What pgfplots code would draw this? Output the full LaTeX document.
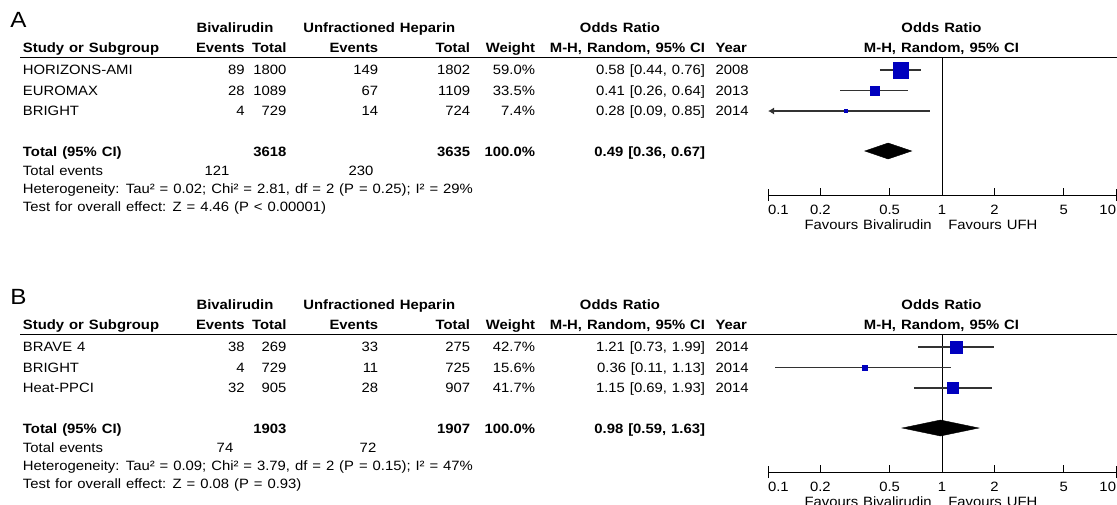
\documentclass[border=0pt]{standalone}
\usepackage{fontspec}
\setmainfont{Liberation Sans}[FakeStretch=1.1, WordSpace=1.2]
\usepackage{pgfplots}
\pgfplotsset{compat=1.18}
\usetikzlibrary{arrows.meta}

\definecolor{sqblue}{RGB}{0,0,190}
\definecolor{cigray}{RGB}{50,50,50}

\newcommand{\fs}{\fontsize{10.125}{12}\selectfont}
% text nodes: x in px, y = centre of the capitals in px (down from top); 1px = 0.75pt
\newcommand{\R}[3]{\node[anchor=base east, inner sep=0pt] at ({#1*0.75pt},{-(#2+\oy+4.8)*0.75pt}) {#3};}
\newcommand{\Lt}[3]{\node[anchor=base west, inner sep=0pt] at ({#1*0.75pt},{-(#2+\oy+4.8)*0.75pt}) {#3};}
\newcommand{\C}[3]{\node[anchor=base, inner sep=0pt] at ({#1*0.75pt},{-(#2+\oy+4.8)*0.75pt}) {#3};}
\newcommand{\row}[9]{\Lt{22.7}{#1}{#2}\R{245}{#1}{#3}\R{286.7}{#1}{#4}%
  \R{378.5}{#1}{#5}\R{470.3}{#1}{#6}\R{535.3}{#1}{#7}\R{705.3}{#1}{#8}\Lt{715.3}{#1}{#9}}
\newcommand{\header}{%
  \C{235}{27.5}{\bfseries Bivalirudin}
  \C{379.3}{27.5}{\bfseries Unfractioned Heparin}
  \C{620}{27.5}{\bfseries Odds Ratio}
  \C{941.5}{27.5}{\bfseries Odds Ratio}
  \row{47.5}{\bfseries Study or Subgroup}{\bfseries Events}{\bfseries Total}{\bfseries Events}%
      {\bfseries Total}{\bfseries Weight}{\bfseries M-H, Random, 95\% CI}{\bfseries Year}
  \C{941.5}{47.5}{\bfseries M-H, Random, 95\% CI}
  \draw[line width=1pt] ({20*0.75pt},{-(57.8+\oy)*0.75pt}) -- ({1117*0.75pt},{-(57.8+\oy)*0.75pt});
  \R{932}{225}{Favours Bivalirudin}
  \Lt{948}{225}{Favours UFH}}

\pgfplotsset{
  ci/.style={cigray, line width=0.8pt},
  sq/.style={only marks, mark=square*, color=sqblue, mark options={draw=none, fill=sqblue}},
}

\begin{document}
\begin{tikzpicture}[font=\fs]
\useasboundingbox (0pt,0pt) rectangle (837.75pt,-378pt);

% ---------------- panel A ----------------
\def\oy{0}
\node[anchor=base west, inner sep=0, font=\fontsize{16.5}{18}\selectfont] at (7.5pt,-20.7pt) {A};
\header
\row{70}{HORIZONS-AMI}{89}{1800}{149}{1802}{59.0\%}{0.58 [0.44, 0.76]}{2008}
\row{90.5}{EUROMAX}{28}{1089}{67}{1109}{33.5\%}{0.41 [0.26, 0.64]}{2013}
\row{111}{BRIGHT}{4}{729}{14}{724}{7.4\%}{0.28 [0.09, 0.85]}{2014}
\Lt{22.7}{152}{\bfseries Total (95\% CI)}
\R{286.7}{152}{\bfseries 3618}
\R{470.3}{152}{\bfseries 3635}
\R{535.3}{152}{\bfseries 100.0\%}
\R{705.3}{152}{\bfseries 0.49 [0.36, 0.67]}
\Lt{22.7}{170.5}{Total events}
\C{217}{170.5}{121}
\C{361}{170.5}{230}
\Lt{22.7}{188.5}{Heterogeneity: Tau² = 0.02; Chi² = 2.81, df = 2 (P = 0.25); I² = 29\%}
\Lt{22.7}{206.5}{Test for overall effect: Z = 4.46 (P < 0.00001)}

\begin{axis}[
    scale only axis, width=261pt, height=102.9pt, anchor=south west,
    at={(576pt,-146.25pt)},
    xmode=log, xmin=0.1, xmax=10, ymin=-195, ymax=-57.8, clip=false,
    axis x line=bottom, axis y line=none,
    axis line style={-, line width=0.75pt, black},
    xtick={0.2,0.5,1,2,5}, xticklabels={0.2,0.5,1,2,5},
    extra x ticks={0.1,10},
    extra x tick labels={\makebox[0pt][l]{0.1},\makebox[0pt][r]{10}},
    extra x tick style={major tick length=9pt, tick align=center,
      xticklabel style={yshift=4.5pt}},
    tick align=inside, major tick length=5pt, minor tick num=0,
    tick style={black, line width=0.75pt},
    xticklabel style={font=\fs, anchor=north, inner sep=0pt, yshift=-7.3pt},
  ]
\addplot[black, line width=0.75pt] coordinates {(1,-57.8) (1,-195)};
\addplot[ci] coordinates {(0.44,-70) (0.76,-70)};
\addplot[ci] coordinates {(0.26,-90.5) (0.64,-90.5)};
\addplot[ci, {Latex[length=4.5pt, width=5.25pt]}-] coordinates {(0.1,-111) (0.85,-111)};
\addplot[sq, mark size=5.9pt] coordinates {(0.58,-70)};
\addplot[sq, mark size=3.25pt] coordinates {(0.41,-90.5)};
\addplot[sq, mark size=1.25pt] coordinates {(0.28,-111)};
\addplot[fill=black, draw=black, line width=0.3pt]
  coordinates {(0.36,-151) (0.49,-143) (0.67,-151) (0.49,-159)} -- cycle;
\end{axis}

% ---------------- panel B ----------------
\def\oy{277}
\node[anchor=base west, inner sep=0, font=\fontsize{16.5}{18}\selectfont] at (7.5pt,-228.45pt) {B};
\header
\row{70}{BRAVE 4}{38}{269}{33}{275}{42.7\%}{1.21 [0.73, 1.99]}{2014}
\row{90.5}{BRIGHT}{4}{729}{11}{725}{15.6\%}{0.36 [0.11, 1.13]}{2014}
\row{111}{Heat-PPCI}{32}{905}{28}{907}{41.7\%}{1.15 [0.69, 1.93]}{2014}
\Lt{22.7}{152}{\bfseries Total (95\% CI)}
\R{286.7}{152}{\bfseries 1903}
\R{470.3}{152}{\bfseries 1907}
\R{535.3}{152}{\bfseries 100.0\%}
\R{705.3}{152}{\bfseries 0.98 [0.59, 1.63]}
\Lt{22.7}{170.5}{Total events}
\C{225}{170.5}{74}
\C{368}{170.5}{72}
\Lt{22.7}{188.5}{Heterogeneity: Tau² = 0.09; Chi² = 3.79, df = 2 (P = 0.15); I² = 47\%}
\Lt{22.7}{206.5}{Test for overall effect: Z = 0.08 (P = 0.93)}

\begin{axis}[
    scale only axis, width=261pt, height=102.9pt, anchor=south west,
    at={(576pt,-354pt)},
    xmode=log, xmin=0.1, xmax=10, ymin=-472, ymax=-334.8, clip=false,
    axis x line=bottom, axis y line=none,
    axis line style={-, line width=0.75pt, black},
    xtick={0.2,0.5,1,2,5}, xticklabels={0.2,0.5,1,2,5},
    extra x ticks={0.1,10},
    extra x tick labels={\makebox[0pt][l]{0.1},\makebox[0pt][r]{10}},
    extra x tick style={major tick length=9pt, tick align=center,
      xticklabel style={yshift=4.5pt}},
    tick align=inside, major tick length=5pt, minor tick num=0,
    tick style={black, line width=0.75pt},
    xticklabel style={font=\fs, anchor=north, inner sep=0pt, yshift=-7.3pt},
  ]
\addplot[black, line width=0.75pt] coordinates {(1,-334.8) (1,-472)};
\addplot[ci] coordinates {(0.73,-347) (1.99,-347)};
\addplot[ci] coordinates {(0.11,-367.5) (1.13,-367.5)};
\addplot[ci] coordinates {(0.69,-388) (1.93,-388)};
\addplot[sq, mark size=4.4pt] coordinates {(1.21,-347)};
\addplot[sq, mark size=1.9pt] coordinates {(0.36,-367.5)};
\addplot[sq, mark size=4.2pt] coordinates {(1.15,-388)};
\addplot[fill=black, draw=black, line width=0.3pt]
  coordinates {(0.59,-428) (0.98,-420) (1.63,-428) (0.98,-436)} -- cycle;
\end{axis}
\end{tikzpicture}
\end{document}
